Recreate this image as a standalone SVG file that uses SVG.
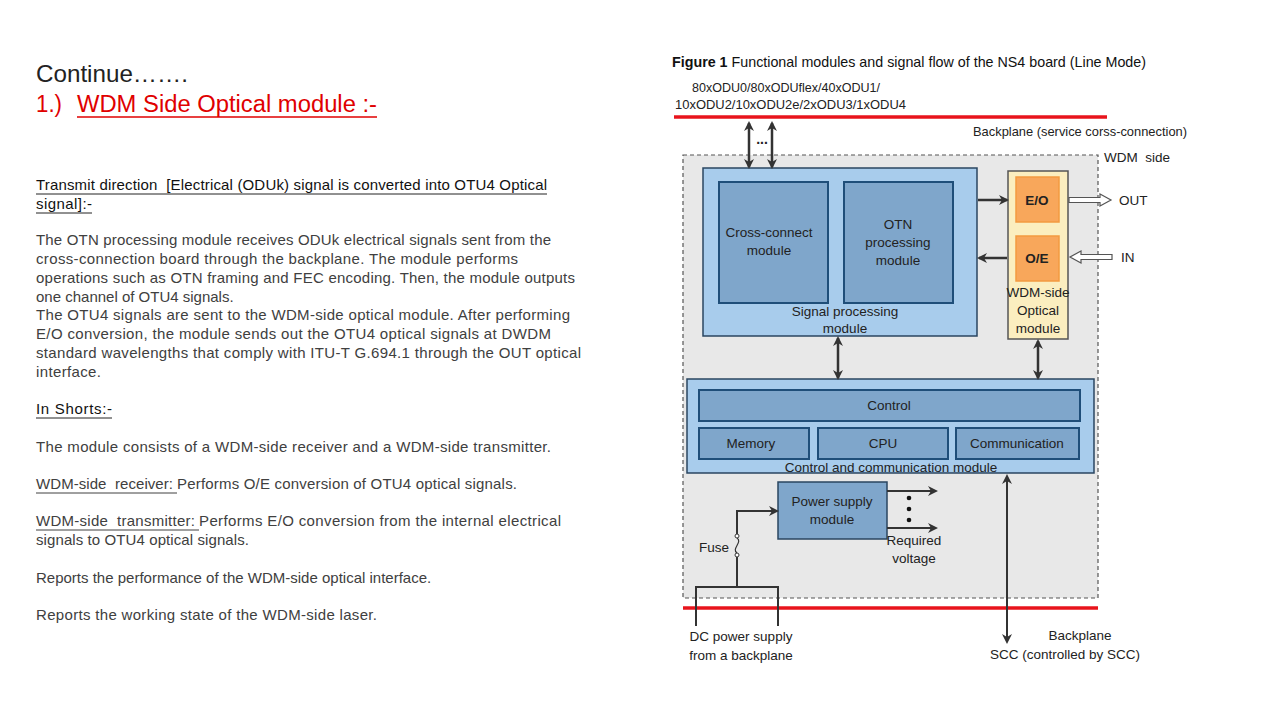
<svg xmlns="http://www.w3.org/2000/svg" width="1280" height="720" viewBox="0 0 1280 720">
<defs>
<marker id="ah" markerUnits="userSpaceOnUse" markerWidth="10" markerHeight="10" refX="8" refY="5" orient="auto-start-reverse" viewBox="0 0 10 10">
<path d="M0,0 L10,5 L0,10 L3,5 z" fill="#333"/>
</marker>
<style>
.body{font-family:"Liberation Sans",Arial,sans-serif;font-size:15px;fill:#404040}
.hd{font-family:"Liberation Sans",Arial,sans-serif;font-size:15px;fill:#111}
.ul{stroke:#222;stroke-width:1}
.lbl{font-family:"Liberation Sans",Arial,sans-serif;font-size:13.5px;fill:#222;text-anchor:middle}
.lbll{font-family:"Liberation Sans",Arial,sans-serif;font-size:13.5px;fill:#222}
.outer{fill:#a8ccec;stroke:#2a4560;stroke-width:1.5}
.inner{fill:#7fa6cb;stroke:#1f4e79;stroke-width:2}
.orange{fill:#f8a75b;stroke:#f39a40;stroke-width:1.5}
.conn{stroke:#333;stroke-width:2.5;fill:none}
.thin{stroke:#333;stroke-width:2;fill:none}
.red{stroke:#e8141c;stroke-width:3.5}
</style>
</defs>
<rect width="1280" height="720" fill="#fff"/>

<!-- Left text -->
<g id="left-text">
<text x="36" y="82" font-family="'Liberation Sans',Arial,sans-serif" font-size="24" fill="#222" textLength="152" lengthAdjust="spacingAndGlyphs">Continue…….</text>
<text x="36" y="112" font-family="'Liberation Sans',Arial,sans-serif" font-size="23" fill="#e00000" textLength="26" lengthAdjust="spacingAndGlyphs">1.)</text>
<text x="77" y="112" font-family="'Liberation Sans',Arial,sans-serif" font-size="23" fill="#e00000" textLength="300" lengthAdjust="spacingAndGlyphs">WDM Side Optical module :-</text>
<line x1="77" y1="117" x2="377" y2="117" stroke="#e00000" stroke-width="1.5"/>

<text class="hd" x="36" y="190" textLength="511">Transmit direction&#160; [Electrical (ODUk) signal is converted into OTU4 Optical</text>
<line class="ul" x1="36" y1="194" x2="547" y2="194"/>
<text class="hd" x="36" y="209" textLength="56">signal]:-</text>
<line class="ul" x1="36" y1="213" x2="92" y2="213"/>

<text class="body" x="36" y="245" textLength="515">The OTN processing module receives ODUk electrical signals sent from the</text>
<text class="body" x="36" y="264" textLength="482">cross-connection board through the backplane. The module performs</text>
<text class="body" x="36" y="283" textLength="539">operations such as OTN framing and FEC encoding. Then, the module outputs</text>
<text class="body" x="36" y="302">one channel of OTU4 signals.</text>
<text class="body" x="36" y="320" textLength="534">The OTU4 signals are sent to the WDM-side optical module. After performing</text>
<text class="body" x="36" y="339" textLength="515">E/O conversion, the module sends out the OTU4 optical signals at DWDM</text>
<text class="body" x="36" y="358" textLength="545">standard wavelengths that comply with ITU-T G.694.1 through the OUT optical</text>
<text class="body" x="36" y="377" textLength="65">interface.</text>

<text class="hd" x="36" y="414" textLength="76">In Shorts:-</text>
<line class="ul" x1="36" y1="418" x2="112" y2="418"/>

<text class="body" x="36" y="452" textLength="515">The module consists of a WDM-side receiver and a WDM-side transmitter.</text>
<text class="body" x="36" y="489" textLength="137">WDM-side&#160; receiver:</text>
<line x1="36" y1="493" x2="177" y2="493" stroke="#404040" stroke-width="1"/>
<text class="body" x="177" y="489" textLength="340">Performs O/E conversion of OTU4 optical signals.</text>
<text class="body" x="36" y="526" textLength="159">WDM-side&#160; transmitter:</text>
<line x1="36" y1="530" x2="199" y2="530" stroke="#404040" stroke-width="1"/>
<text class="body" x="199" y="526" textLength="362">Performs E/O conversion from the internal electrical</text>
<text class="body" x="36" y="545" textLength="213">signals to OTU4 optical signals.</text>
<text class="body" x="36" y="583">Reports the performance of the WDM-side optical interface.</text>
<text class="body" x="36" y="620" textLength="341">Reports the working state of the WDM-side laser.</text>
</g>

<!-- Diagram title and labels -->
<g id="figure-title">
<text x="672" y="67" font-family="'Liberation Sans',Arial,sans-serif" font-size="15" fill="#111" textLength="474" lengthAdjust="spacingAndGlyphs"><tspan font-weight="bold">Figure 1</tspan> Functional modules and signal flow of the NS4 board (Line Mode)</text>
<text class="lbll" x="692" y="92" textLength="188" lengthAdjust="spacingAndGlyphs">80xODU0/80xODUflex/40xODU1/</text>
<text class="lbll" x="675" y="109" textLength="231" lengthAdjust="spacingAndGlyphs">10xODU2/10xODU2e/2xODU3/1xODU4</text>
<text class="lbll" x="973" y="136" textLength="214" lengthAdjust="spacingAndGlyphs">Backplane (service corss-connection)</text>
</g>

<g id="backplane-lines">
<line class="red" x1="674" y1="117" x2="1107" y2="117"/>
<line class="red" x1="683" y1="608" x2="1098" y2="608"/>
</g>

<g id="wdm-side">
<rect x="683" y="155" width="415" height="443" fill="#e8e8e8" stroke="#555" stroke-width="1.2" stroke-dasharray="4,3"/>
<text class="lbll" x="1104" y="162">WDM&#160; side</text>
</g>

<g id="signal-processing">
<rect class="outer" x="703" y="168" width="274" height="168"/>
<text class="lbl" x="845" y="316">Signal processing</text>
<text class="lbl" x="845" y="333">module</text>
</g>
<g id="cross-connect">
<rect class="inner" x="719" y="182" width="109" height="121"/>
<text class="lbl" x="769" y="237">Cross-connect</text>
<text class="lbl" x="769" y="255">module</text>
</g>
<g id="otn-processing">
<rect class="inner" x="844" y="182" width="109" height="121"/>
<text class="lbl" x="898" y="229">OTN</text>
<text class="lbl" x="898" y="247">processing</text>
<text class="lbl" x="898" y="265">module</text>
</g>

<g id="wdm-optical-module">
<rect x="1008" y="171" width="60" height="168" fill="#fbeebf" stroke="#555" stroke-width="1.5"/>
<text class="lbl" x="1038" y="297">WDM-side</text>
<text class="lbl" x="1038" y="315">Optical</text>
<text class="lbl" x="1038" y="333">module</text>
</g>
<g id="eo">
<rect class="orange" x="1016" y="177" width="43" height="45"/>
<text class="lbl" x="1037" y="205" font-weight="bold">E/O</text>
</g>
<g id="oe">
<rect class="orange" x="1016" y="236" width="43" height="45"/>
<text class="lbl" x="1037" y="263" font-weight="bold">O/E</text>
</g>

<g id="control-comm">
<rect class="outer" x="687" y="379" width="407" height="94"/>
<text class="lbl" x="891" y="472">Control and communication module</text>
</g>
<g id="control">
<rect class="inner" x="699" y="390" width="381" height="31"/>
<text class="lbl" x="889" y="410">Control</text>
</g>
<g id="memory">
<rect class="inner" x="699" y="428" width="110" height="31"/>
<text class="lbl" x="751" y="448">Memory</text>
</g>
<g id="cpu">
<rect class="inner" x="818" y="428" width="130" height="31"/>
<text class="lbl" x="883" y="448">CPU</text>
</g>
<g id="communication">
<rect class="inner" x="956" y="428" width="123" height="31"/>
<text class="lbl" x="1017" y="448">Communication</text>
</g>

<g id="power-supply">
<rect x="778" y="482" width="109" height="57" fill="#7fa6cb" stroke="#2a4560" stroke-width="1.5"/>
<text class="lbl" x="832" y="506">Power supply</text>
<text class="lbl" x="832" y="524">module</text>
</g>

<g id="connectors">
<line class="conn" x1="749" y1="123" x2="749" y2="167" marker-start="url(#ah)" marker-end="url(#ah)"/>
<line class="conn" x1="772" y1="123" x2="772" y2="167" marker-start="url(#ah)" marker-end="url(#ah)"/>
<text x="762" y="144" font-family="'Liberation Sans',Arial,sans-serif" font-size="14" font-weight="bold" fill="#222" text-anchor="middle">...</text>
<line class="conn" x1="978" y1="200" x2="1007" y2="200" marker-end="url(#ah)"/>
<line class="conn" x1="1007" y1="258" x2="979" y2="258" marker-end="url(#ah)"/>
<polygon points="1069,197.5 1100,197.5 1100,194 1111,200 1100,206 1100,202.5 1069,202.5" fill="#fff" stroke="#555" stroke-width="1.2"/>
<polygon points="1112,254.5 1081,254.5 1081,251 1070,257 1081,263 1081,259.5 1112,259.5" fill="#fff" stroke="#555" stroke-width="1.2"/>
<line class="conn" x1="838" y1="338" x2="838" y2="378" marker-start="url(#ah)" marker-end="url(#ah)"/>
<line class="conn" x1="1038" y1="341" x2="1038" y2="378" marker-start="url(#ah)" marker-end="url(#ah)"/>
<line class="thin" x1="1007" y1="476" x2="1007" y2="642" marker-start="url(#ah)" marker-end="url(#ah)"/>
<line class="thin" x1="887" y1="491" x2="936" y2="491" marker-end="url(#ah)"/>
<line class="thin" x1="887" y1="528" x2="936" y2="528" marker-end="url(#ah)"/>
<circle cx="909" cy="498" r="2.3" fill="#111"/>
<circle cx="909" cy="509" r="2.3" fill="#111"/>
<circle cx="909" cy="520" r="2.3" fill="#111"/>
<polyline class="thin" points="696,626 696,587 778,587 778,626"/>
<line class="thin" x1="737" y1="587" x2="737" y2="557"/>
<circle cx="737" cy="555" r="2" fill="#fff" stroke="#333" stroke-width="1"/>
<path d="M737,553 C731,549 743,542 737,538" fill="none" stroke="#333" stroke-width="1.2"/>
<circle cx="737" cy="536" r="2" fill="#fff" stroke="#333" stroke-width="1"/>
<polyline class="thin" points="737,534 737,511 777,511" marker-end="url(#ah)"/>
</g>

<g id="annotations">
<text class="lbll" x="1119" y="205">OUT</text>
<text class="lbll" x="1121" y="262">IN</text>
<text class="lbl" x="914" y="545">Required</text>
<text class="lbl" x="914" y="563">voltage</text>
<text class="lbl" x="714" y="552">Fuse</text>
<text class="lbl" x="741" y="641">DC power supply</text>
<text class="lbl" x="741" y="660">from a backplane</text>
<text class="lbl" x="1080" y="640">Backplane</text>
<text class="lbl" x="1065" y="659">SCC (controlled by SCC)</text>
</g>
</svg>
